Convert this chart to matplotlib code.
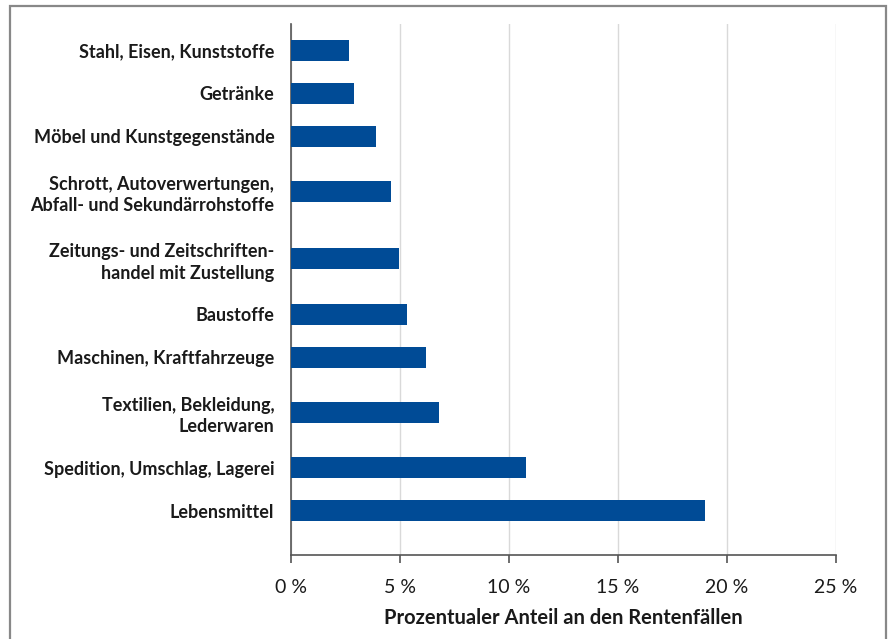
import matplotlib.pyplot as plt
from matplotlib.patches import Rectangle

labels = ["Stahl, Eisen, Kunststoffe", "Getränke", "Möbel und Kunstgegenstände",
          "Schrott, Autoverwertungen,\nAbfall- und Sekundärrohstoffe",
          "Zeitungs- und Zeitschriften-\nhandel mit Zustellung", "Baustoffe",
          "Maschinen, Kraftfahrzeuge", "Textilien, Bekleidung,\nLederwaren",
          "Spedition, Umschlag, Lagerei", "Lebensmittel"]
values = [2.65, 2.9, 3.9, 4.6, 4.95, 5.3, 6.2, 6.8, 10.8, 19.0]
ticks = [0, 5, 10, 15, 20, 25]
tick_labels = ["0 %", "5 %", "10 %", "15 %", "20 %", "25 %"]

# row positions: two-line labels get extra room
pos = [0.0]
for a, b in zip(labels[:-1], labels[1:]):
    extra = a.count("\n") + b.count("\n")
    pos.append(pos[-1] + 43 + 12 * extra)

plt.rcParams['font.family'] = ['Lato', 'DejaVu Sans']

fig = plt.figure(figsize=(8.88, 6.39), dpi=100)
W, H = 888, 639
ax = fig.add_axes([291 / W, (H - 555) / H, (836 - 291) / W, (555 - 24) / H])

ax.barh(pos, values, height=21, color="#004b96", zorder=3)
ax.set_ylim(pos[-1] + 44, pos[0] - 26)
ax.set_xlim(0, 25)
ax.set_yticks(pos)
ax.set_yticklabels(labels, fontsize=13, fontweight="bold", color="#1a1a1a", linespacing=1.3)
ax.tick_params(axis="y", length=0, pad=12)
ax.set_xticks(ticks)
ax.set_xticklabels(tick_labels, fontsize=14, color="#1a1a1a")
ax.tick_params(axis="x", length=6, width=1.2, color="#555555", pad=11)
ax.grid(axis="x", color="#d9d9d9", linewidth=1, zorder=0)
ax.set_xlabel("Prozentualer Anteil an den Rentenfällen", fontsize=14.5, fontweight="bold",
              color="#1a1a1a", labelpad=9)

for s in ["top", "right"]:
    ax.spines[s].set_visible(False)
for s in ["left", "bottom"]:
    ax.spines[s].set_color("#555555")
    ax.spines[s].set_linewidth(1.2)

fig.patches.append(Rectangle((10 / W, -0.05), 876 / W, 1.05 - 6 / H, transform=fig.transFigure,
                             fill=False, edgecolor="#888888", linewidth=1.6))

fig.savefig("out.png", dpi=100)
